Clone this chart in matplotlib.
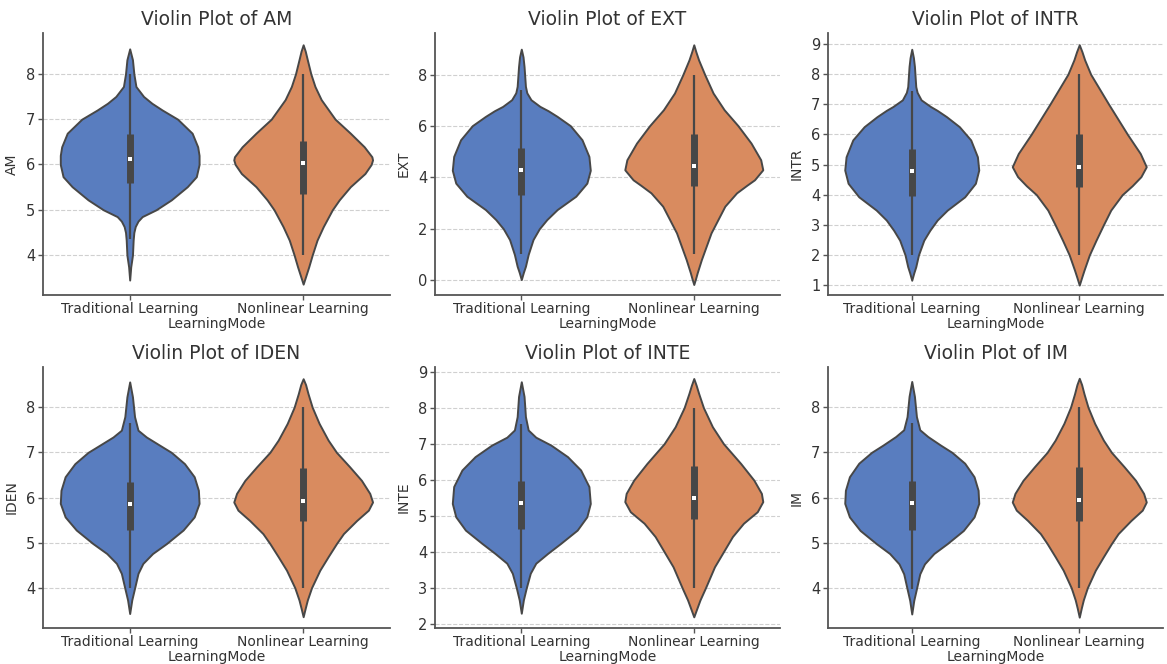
import numpy as np
import matplotlib
matplotlib.use("Agg")
import matplotlib.pyplot as plt
import seaborn as sns

# categories
variables = ['AM', 'EXT', 'INTR', 'IDEN', 'INTE', 'IM']
groups = ['Traditional Learning', 'Nonlinear Learning']

# density outlines (value, relative density)
am_trad_y = [3.45, 3.74, 4.00, 4.33, 4.50, 4.63, 4.75, 4.85, 5.00, 5.22, 5.51, 5.73, 6.00, 6.20, 6.39, 6.69, 7.00, 7.20, 7.35, 7.50, 7.72, 8.00, 8.31, 8.55]
am_trad_d = [0, 0.015, 0.04, 0.05, 0.06, 0.08, 0.12, 0.18, 0.38, 0.60, 0.83, 0.96, 1.0, 1.0, 0.98, 0.90, 0.69, 0.47, 0.32, 0.20, 0.09, 0.06, 0.04, 0]
am_nonl_y = [3.36, 3.55, 3.74, 4.00, 4.33, 4.63, 5.00, 5.22, 5.51, 5.80, 6.00, 6.10, 6.17, 6.39, 6.69, 7.00, 7.43, 7.72, 8.00, 8.31, 8.50, 8.64]
am_nonl_d = [0, 0.04, 0.08, 0.13, 0.20, 0.29, 0.42, 0.52, 0.68, 0.89, 0.98, 1.0, 0.99, 0.88, 0.68, 0.46, 0.26, 0.17, 0.11, 0.06, 0.03, 0]

ext_trad_y = [0.02, 0.30, 0.54, 1.00, 1.58, 2.00, 2.36, 2.75, 3.27, 3.78, 4.28, 4.82, 5.47, 6.02, 6.38, 6.60, 6.77, 7.03, 7.30, 7.55, 8.32, 8.70, 9.00]
ext_trad_d = [0, 0.03, 0.06, 0.10, 0.17, 0.26, 0.37, 0.52, 0.79, 0.95, 1.0, 0.98, 0.88, 0.71, 0.52, 0.39, 0.27, 0.14, 0.08, 0.06, 0.04, 0.025, 0]
ext_nonl_y = [-0.17, 0.05, 0.29, 0.80, 1.32, 1.84, 2.36, 2.88, 3.40, 3.70, 3.91, 4.30, 4.69, 5.34, 6.02, 6.64, 7.29, 8.00, 8.58, 8.90, 9.17]
ext_nonl_d = [0, 0.025, 0.05, 0.11, 0.18, 0.25, 0.35, 0.45, 0.62, 0.77, 0.88, 1.0, 0.97, 0.83, 0.64, 0.44, 0.28, 0.16, 0.07, 0.03, 0]

intr_trad_y = [1.16, 1.40, 1.61, 2.00, 2.49, 2.82, 3.16, 3.49, 3.93, 4.38, 4.82, 5.26, 5.82, 6.26, 6.59, 6.80, 6.93, 7.15, 7.40, 7.59, 8.26, 8.55, 8.83]
intr_trad_d = [0, 0.03, 0.06, 0.10, 0.18, 0.27, 0.38, 0.53, 0.79, 0.95, 1.0, 0.98, 0.88, 0.71, 0.52, 0.38, 0.28, 0.14, 0.08, 0.06, 0.04, 0.025, 0]
intr_nonl_y = [1.00, 1.25, 1.49, 2.00, 2.49, 3.00, 3.49, 4.00, 4.30, 4.60, 4.93, 5.37, 6.00, 7.00, 8.00, 8.48, 8.75, 8.98]
intr_nonl_d = [0, 0.035, 0.07, 0.15, 0.25, 0.36, 0.47, 0.64, 0.79, 0.92, 1.0, 0.91, 0.72, 0.44, 0.17, 0.08, 0.04, 0]

iden_trad_y = [3.43, 3.73, 3.99, 4.32, 4.54, 4.76, 4.98, 5.28, 5.57, 5.87, 6.16, 6.46, 6.75, 7.00, 7.16, 7.34, 7.49, 7.79, 8.23, 8.56]
iden_trad_d = [0, 0.03, 0.07, 0.12, 0.19, 0.33, 0.53, 0.77, 0.93, 1.0, 0.99, 0.93, 0.79, 0.60, 0.43, 0.24, 0.12, 0.07, 0.04, 0]
iden_nonl_y = [3.36, 3.55, 3.73, 4.00, 4.39, 4.69, 4.98, 5.20, 5.49, 5.72, 5.90, 6.09, 6.38, 6.68, 7.00, 7.27, 7.64, 8.00, 8.30, 8.50, 8.63]
iden_nonl_d = [0, 0.03, 0.06, 0.12, 0.24, 0.36, 0.48, 0.58, 0.77, 0.94, 1.0, 0.96, 0.84, 0.67, 0.48, 0.36, 0.23, 0.13, 0.07, 0.035, 0]

inte_trad_y = [2.29, 2.66, 2.98, 3.40, 3.68, 3.95, 4.23, 4.60, 4.97, 5.34, 5.81, 6.27, 6.64, 6.96, 7.18, 7.38, 7.75, 8.31, 8.72]
inte_trad_d = [0, 0.03, 0.07, 0.13, 0.21, 0.38, 0.57, 0.81, 0.95, 1.0, 0.98, 0.86, 0.67, 0.43, 0.21, 0.10, 0.06, 0.04, 0]
inte_nonl_y = [2.19, 2.40, 2.66, 3.00, 3.58, 4.00, 4.42, 4.79, 5.11, 5.39, 5.62, 5.99, 6.45, 7.00, 7.47, 8.00, 8.40, 8.62, 8.81]
inte_nonl_d = [0, 0.04, 0.09, 0.17, 0.30, 0.43, 0.56, 0.72, 0.92, 1.0, 0.98, 0.87, 0.68, 0.43, 0.27, 0.14, 0.07, 0.035, 0]

im_trad_y = [3.42, 3.72, 3.98, 4.31, 4.53, 4.76, 4.98, 5.27, 5.57, 5.87, 6.16, 6.46, 6.76, 7.00, 7.16, 7.35, 7.50, 7.79, 8.24, 8.57]
im_trad_d = [0, 0.03, 0.07, 0.12, 0.19, 0.33, 0.53, 0.77, 0.93, 1.0, 0.99, 0.93, 0.79, 0.60, 0.43, 0.24, 0.12, 0.07, 0.04, 0]
im_nonl_y = [3.35, 3.55, 3.73, 4.00, 4.39, 4.69, 4.98, 5.20, 5.49, 5.72, 5.90, 6.09, 6.38, 6.68, 7.00, 7.27, 7.64, 8.00, 8.30, 8.50, 8.64]
im_nonl_d = [0, 0.03, 0.06, 0.12, 0.24, 0.36, 0.48, 0.58, 0.77, 0.94, 1.0, 0.96, 0.84, 0.67, 0.48, 0.36, 0.23, 0.13, 0.07, 0.035, 0]

# box stats: whisker low, q1, median, q3, whisker high
am_stats = [[4.35, 5.60, 6.11, 6.67, 8.0], [4.0, 5.34, 6.03, 6.52, 8.0]]
ext_stats = [[1.0, 3.33, 4.28, 5.15, 7.42], [1.0, 3.68, 4.43, 5.69, 8.0]]
intr_stats = [[2.0, 3.97, 4.80, 5.52, 7.46], [2.0, 4.27, 4.91, 6.01, 8.0]]
iden_stats = [[3.99, 5.28, 5.85, 6.35, 7.66], [4.0, 5.48, 5.93, 6.66, 8.0]]
inte_stats = [[2.98, 4.63, 5.34, 5.96, 7.55], [3.0, 4.91, 5.48, 6.38, 8.0]]
im_stats = [[3.98, 5.27, 5.87, 6.37, 7.64], [4.0, 5.48, 5.94, 6.68, 8.0]]

# y tick values shown on each panel
am_ticks = [4, 5, 6, 7, 8]
ext_ticks = [0, 2, 4, 6, 8]
intr_ticks = [1, 2, 3, 4, 5, 6, 7, 8, 9]
iden_ticks = [4, 5, 6, 7, 8]
inte_ticks = [2, 3, 4, 5, 6, 7, 8, 9]
im_ticks = [4, 5, 6, 7, 8]

outlines = {
    'AM': [(am_trad_y, am_trad_d), (am_nonl_y, am_nonl_d)],
    'EXT': [(ext_trad_y, ext_trad_d), (ext_nonl_y, ext_nonl_d)],
    'INTR': [(intr_trad_y, intr_trad_d), (intr_nonl_y, intr_nonl_d)],
    'IDEN': [(iden_trad_y, iden_trad_d), (iden_nonl_y, iden_nonl_d)],
    'INTE': [(inte_trad_y, inte_trad_d), (inte_nonl_y, inte_nonl_d)],
    'IM': [(im_trad_y, im_trad_d), (im_nonl_y, im_nonl_d)],
}
box_stats = {'AM': am_stats, 'EXT': ext_stats, 'INTR': intr_stats,
             'IDEN': iden_stats, 'INTE': inte_stats, 'IM': im_stats}
yticks = {'AM': am_ticks, 'EXT': ext_ticks, 'INTR': intr_ticks,
          'IDEN': iden_ticks, 'INTE': inte_ticks, 'IM': im_ticks}

# layout (figure fractions) and y ranges
positions = {
    'AM': [0.0368, 0.5557, 0.2973, 0.3946],
    'EXT': [0.3728, 0.5557, 0.2956, 0.3946],
    'INTR': [0.7095, 0.5557, 0.2871, 0.3946],
    'IDEN': [0.0368, 0.0542, 0.2973, 0.3931],
    'INTE': [0.3728, 0.0542, 0.2956, 0.3931],
    'IM': [0.7095, 0.0542, 0.2871, 0.3931],
}
ylims = {'AM': (3.12, 8.9), 'EXT': (-0.58, 9.63), 'INTR': (0.67, 9.37),
         'IDEN': (3.11, 8.89), 'INTE': (1.88, 9.13), 'IM': (3.11, 8.89)}

colors = [sns.desaturate(c, 0.75) for c in sns.color_palette('muted', 2)]
edge = '#474747'
textc = '#333333'

plt.rcParams['font.family'] = ['DejaVu Sans']
plt.rcParams['text.color'] = textc
plt.rcParams['axes.labelcolor'] = textc
plt.rcParams['xtick.color'] = '#555555'
plt.rcParams['ytick.color'] = '#555555'
plt.rcParams['xtick.labelcolor'] = textc
plt.rcParams['ytick.labelcolor'] = textc

fig = plt.figure(figsize=(11.67, 6.64), dpi=100)

for var in variables:
    ax = fig.add_axes(positions[var])
    vpstats = []
    for (ys, ds), st in zip(outlines[var], box_stats[var]):
        vpstats.append({'coords': np.array(ys), 'vals': np.array(ds),
                        'mean': st[2], 'median': st[2],
                        'min': ys[0], 'max': ys[-1], 'quantiles': []})
    parts = ax.violin(vpstats, positions=[0, 1], widths=0.8,
                      showmeans=False, showextrema=False, showmedians=False)
    for body, col in zip(parts['bodies'], colors):
        body.set_facecolor(col)
        body.set_edgecolor(edge)
        body.set_linewidth(1.4)
        body.set_joinstyle('round')
        body.set_alpha(1)
        body.set_zorder(2)

    # inner box
    for i, st in enumerate(box_stats[var]):
        ax.vlines(i, st[0], st[4], color=edge, lw=1.6, zorder=3)
        ax.vlines(i, st[1], st[3], color=edge, lw=5, zorder=3)
        ax.scatter([i], [st[2]], s=9, c='white', marker='s', zorder=4, linewidths=0)

    ax.set_xlim(-0.5, 1.5)
    ax.set_ylim(*ylims[var])
    ax.set_yticks(yticks[var])
    ax.set_xticks([0, 1])
    ax.set_xticklabels(groups, fontsize=10)
    ax.tick_params(axis='y', labelsize=10.5, length=3.5, width=1, pad=2)
    ax.tick_params(axis='x', length=3.5, width=1, pad=1.5)
    ax.set_xlabel('LearningMode', fontsize=10, labelpad=1)
    ax.set_ylabel(var, fontsize=10, labelpad=5)
    ax.set_title('Violin Plot of ' + var, fontsize=13.5, color=textc, pad=6)

    ax.grid(axis='y', linestyle='--', color='#d0d0d0', linewidth=0.8)
    ax.set_axisbelow(True)
    for side in ['top', 'right']:
        ax.spines[side].set_visible(False)
    for side in ['left', 'bottom']:
        ax.spines[side].set_color('#555555')
        ax.spines[side].set_linewidth(1.3)

fig.savefig('out.png', dpi=100)
